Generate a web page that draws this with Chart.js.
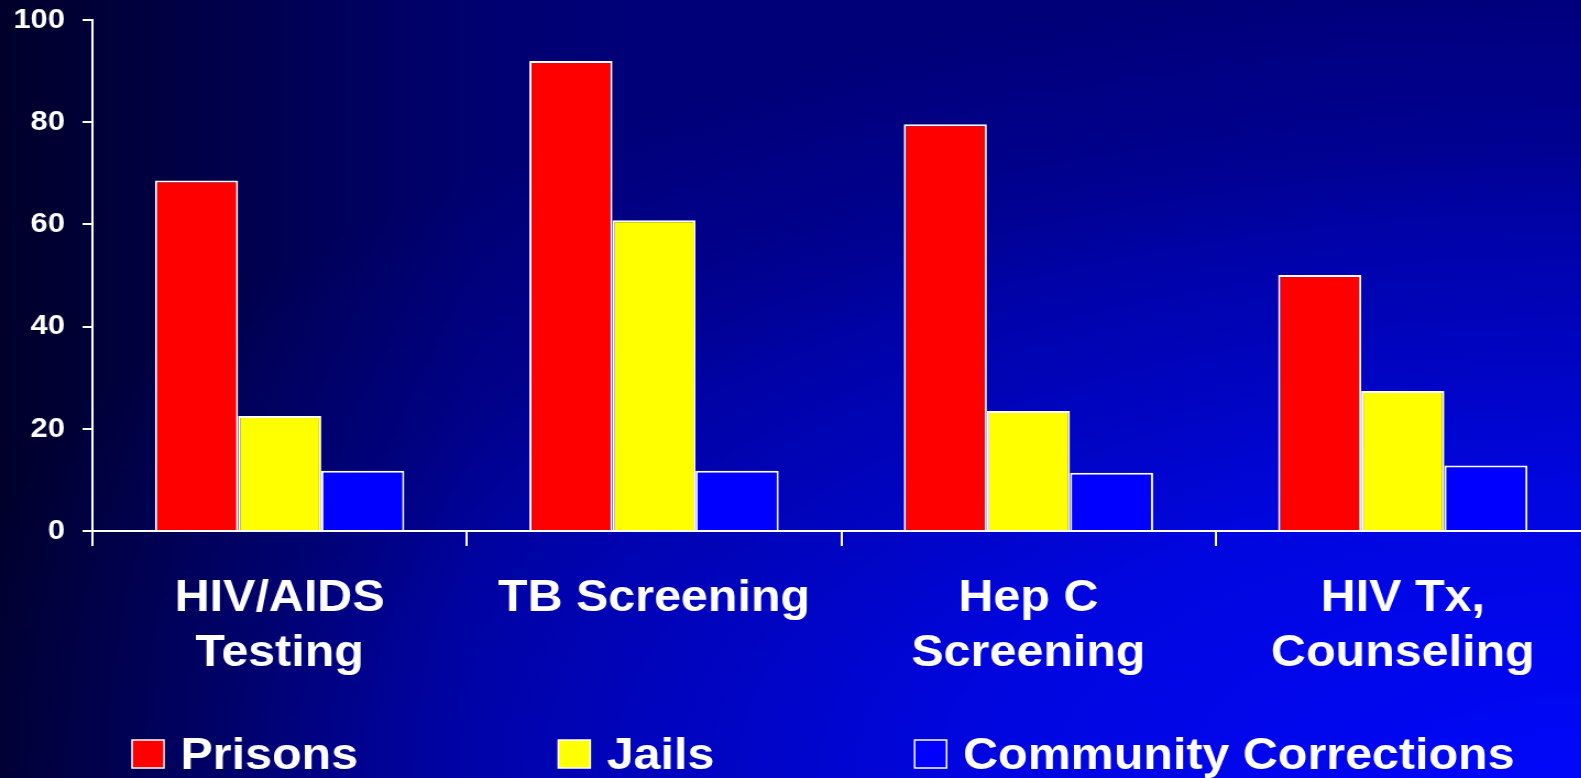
<!DOCTYPE html>
<html>
<head>
<meta charset="utf-8">
<script src="https://cdn.jsdelivr.net/npm/chart.js@4"></script>
<style>
  html, body { margin: 0; padding: 0; width: 1581px; height: 778px; overflow: hidden; }
  body {
    background:
      radial-gradient(ellipse 1700px 800px at 100% 100%,
        rgba(0,8,255,0.95) 0%, rgba(0,8,255,0.75) 37%, rgba(0,8,255,0.57) 50%,
        rgba(0,8,255,0.33) 70%, rgba(0,8,255,0.16) 80%, rgba(0,8,255,0) 100%),
      linear-gradient(90deg, #00002a 0%, #000070 30%, #000078 40%, #00007a 100%);
  }
  #chart { display: block; }
</style>
</head>
<body>
<!-- the original slide is stretched sideways, so the canvas is too -->
<canvas id="chart" width="1445" height="778" style="width:1589.5px;height:778px"></canvas>
<script>
const categories = [['HIV/AIDS', 'Testing'], 'TB Screening', ['Hep C', 'Screening'], ['HIV Tx,', 'Counseling']];
const seriesNames = ['Prisons', 'Jails', 'Community Corrections'];
const prisons = [68.6, 92, 79.6, 50.1];
const jails = [22.5, 60.8, 23.5, 27.4];
const community = [11.8, 11.8, 11.4, 12.8];
const seriesColors = ['#ff0000', '#ffff00', '#0000ff'];
const yTicks = [0, 20, 40, 60, 80, 100];

const fontFamily = '"Liberation Sans", Arial, sans-serif';

// legend row under the chart, spaced like the slide
const legendRow = {
  id: 'legendRow',
  afterDraw(chart) {
    const ctx = chart.ctx;
    ctx.save();
    ctx.font = 'bold 44px ' + fontFamily;
    ctx.textBaseline = 'alphabetic';
    ctx.textAlign = 'left';
    let x = 120;
    chart.data.datasets.forEach(ds => {
      ctx.fillStyle = ds.backgroundColor;
      ctx.fillRect(x, 740, 29, 28);
      ctx.strokeStyle = '#ffffff';
      ctx.lineWidth = 1.5;
      ctx.strokeRect(x, 740, 29, 28);
      ctx.fillStyle = '#ffffff';
      ctx.fillText(ds.label, x + 44, 769);
      x += 44 + ctx.measureText(ds.label).width + 182;
    });
    ctx.restore();
  }
};

const values = [prisons, jails, community];

new Chart(document.getElementById('chart').getContext('2d'), {
  type: 'bar',
  data: {
    labels: categories,
    datasets: seriesNames.map((name, i) => ({
      label: name,
      data: values[i],
      backgroundColor: seriesColors[i],
      borderColor: '#ffffff',
      borderWidth: 2,
      categoryPercentage: 0.666,
      barPercentage: 1.0
    }))
  },
  options: {
    responsive: false,
    animation: false,
    layout: { padding: { top: 20, bottom: 72, left: 0, right: 0 } },
    plugins: { legend: { display: false }, tooltip: { enabled: false } },
    scales: {
      x: {
        grid: { drawOnChartArea: false, offset: true, tickLength: 15, color: '#ffffff', lineWidth: 2 },
        border: { display: true, color: '#ffffff', width: 2 },
        ticks: {
          color: '#ffffff',
          font: { family: fontFamily, size: 44, weight: 'bold', lineHeight: 1.25 },
          padding: 25,
          maxRotation: 0,
          autoSkip: false
        }
      },
      y: {
        min: yTicks[0],
        max: yTicks[yTicks.length - 1],
        grid: { drawOnChartArea: false, tickLength: 9, color: '#ffffff', lineWidth: 2 },
        border: { display: true, color: '#ffffff', width: 2 },
        ticks: {
          stepSize: yTicks[1] - yTicks[0],
          color: '#ffffff',
          font: { family: fontFamily, size: 28, weight: 'bold' },
          padding: 16
        },
        afterFit(scale) {
          scale.width = 84;
          scale.paddingTop = 0;
          scale.paddingBottom = 0;
        }
      }
    }
  },
  plugins: [legendRow]
});
</script>
</body>
</html>
